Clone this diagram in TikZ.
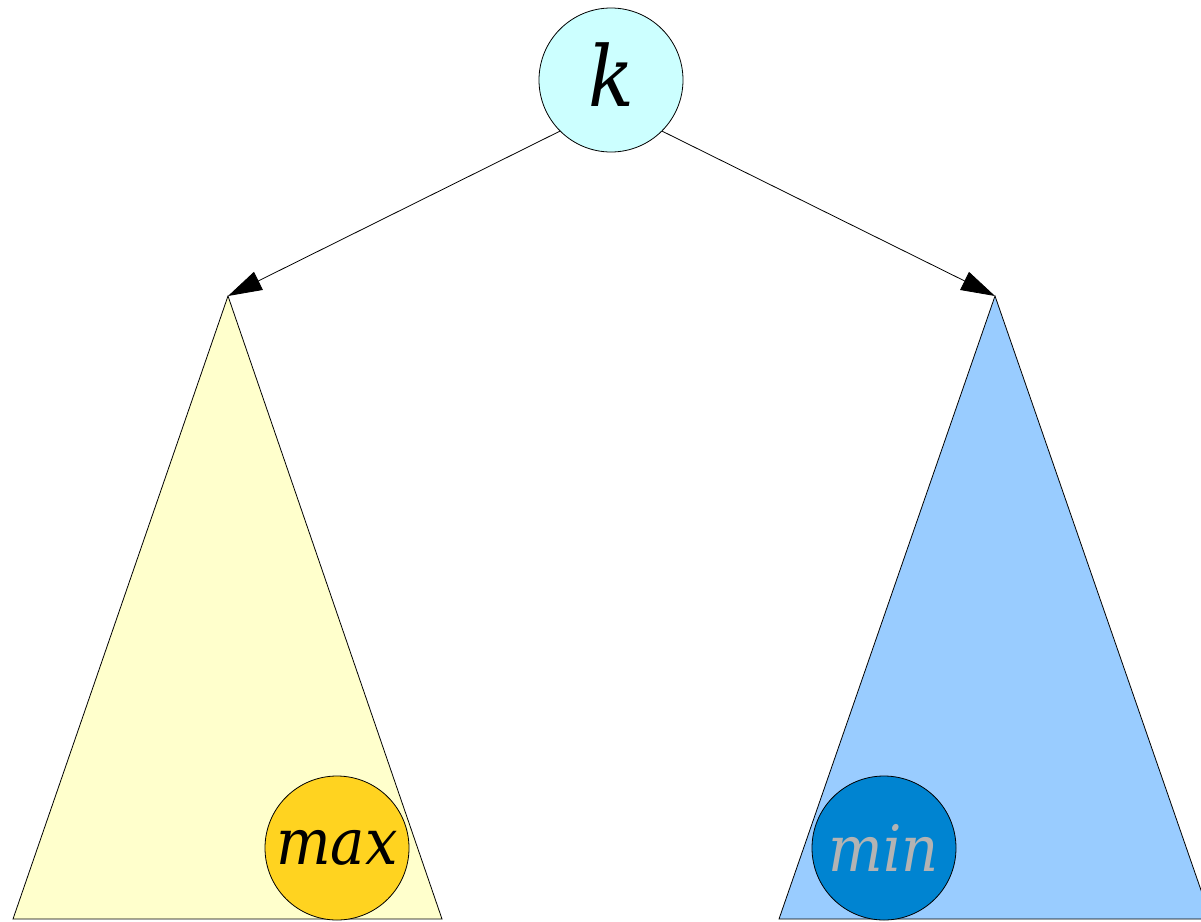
\documentclass[tikz,border=0pt]{standalone}
\usepackage{fontspec}
\setmainfont{DejaVu Serif}
\newfontfamily\condserif[FakeStretch=0.9]{DejaVu Serif}
\usetikzlibrary{arrows.meta}
\definecolor{kfill}{HTML}{CCFFFF}
\definecolor{lefttri}{HTML}{FFFFCC}
\definecolor{righttri}{HTML}{99CCFF}
\definecolor{maxfill}{HTML}{FFD320}
\definecolor{minfill}{HTML}{0084D1}
\definecolor{mintext}{HTML}{B3B3B3}
\tikzset{
  keynode/.style={circle, draw=black, line width=0.8pt, minimum size=144pt, inner sep=0pt,
    font=\condserif\fontsize{64}{70}\selectfont\itshape},
  keylabel/.style={inner sep=0pt, font=\condserif\fontsize{84}{90}\selectfont\itshape},
  tri/.style={draw=black, line width=0.8pt},
  edge/.style={draw=black, line width=0.8pt, -{Triangle[length=34pt,width=20pt]}, shorten >=0pt}
}
\begin{document}
\begin{tikzpicture}[x=1pt,y=-1pt]
\useasboundingbox (0,0) rectangle (1201,921);
\begin{scope}
\clip (0,0) rectangle (1201,921);
\filldraw[tri, fill=lefttri] (228,296) -- (13,919) -- (442,919) -- cycle;
\filldraw[tri, fill=righttri] (995,296) -- (779,919) -- (1211,919) -- cycle;
\end{scope}
\coordinate (la) at (228,296);
\coordinate (ra) at (995,296);
\node[keynode, fill=kfill] (k) at (611,80) {};
\node[keylabel] (klabel) at (611,75) {k};
\node[keynode, fill=maxfill] (max) at (337,848) {max};
\node[keynode, fill=minfill, text=mintext] (min) at (884,848) {min};
\draw[edge] (k.-135) -- (la);
\draw[edge] (k.-45) -- (ra);
\end{tikzpicture}
\end{document}
